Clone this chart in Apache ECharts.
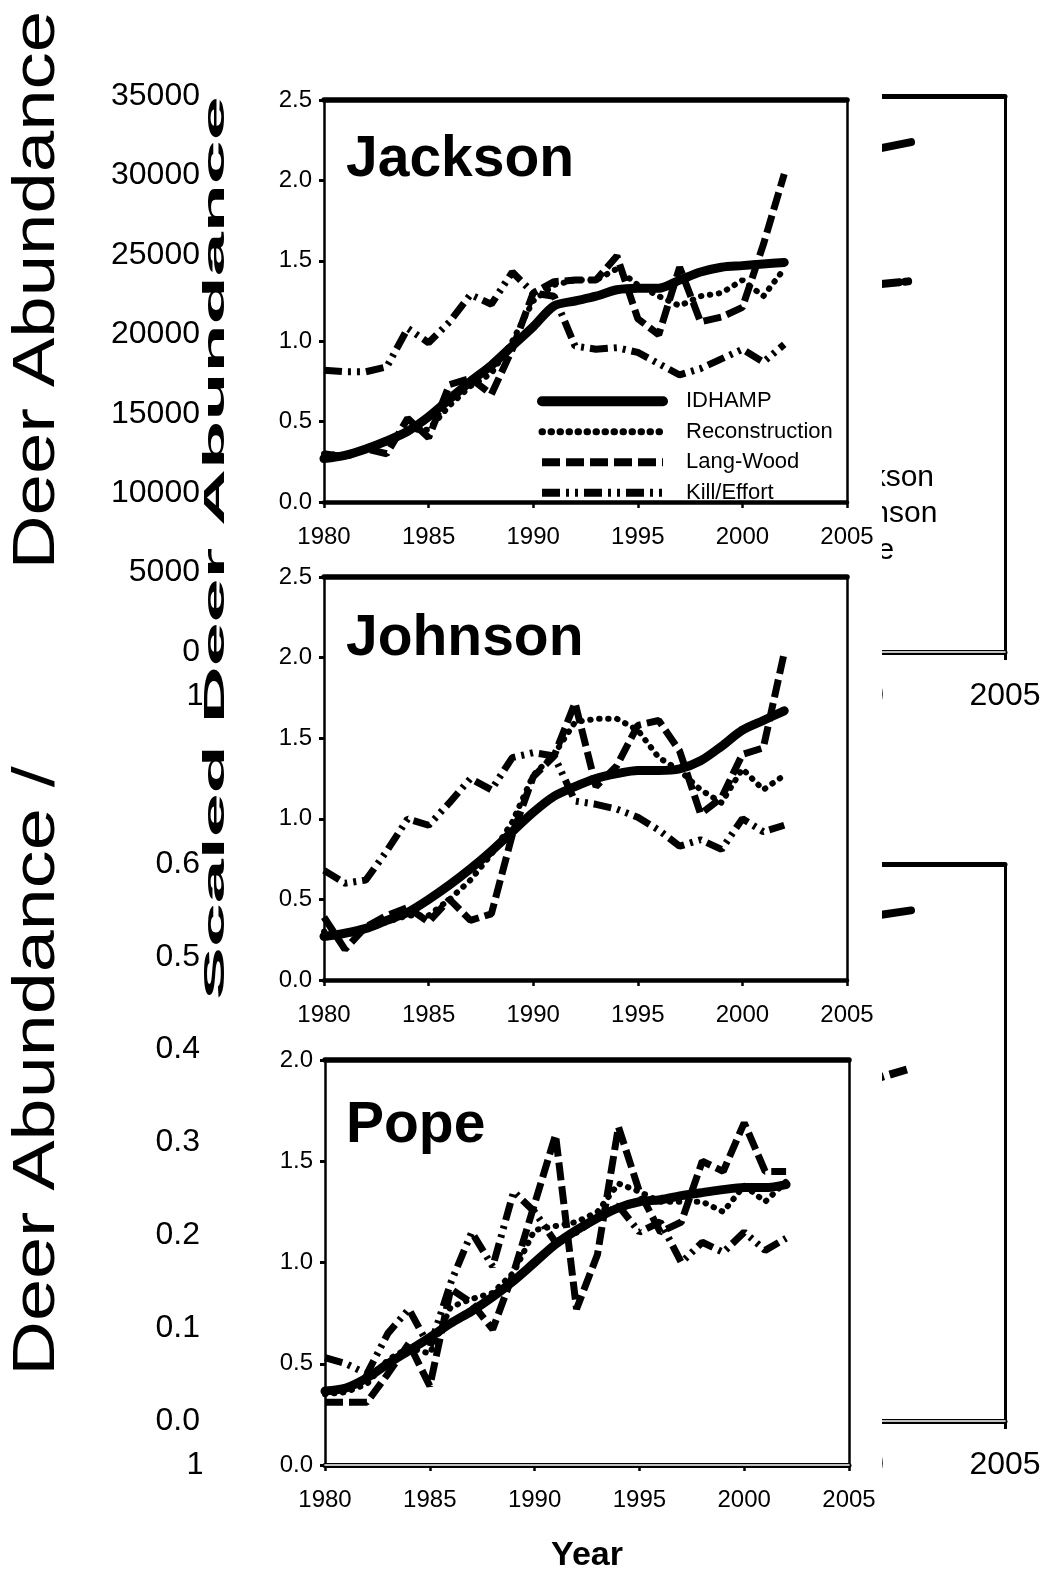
<!DOCTYPE html>
<html>
<head>
<meta charset="utf-8">
<script src="https://cdn.jsdelivr.net/npm/echarts@6/dist/echarts.min.js"></script>
<style>
  html, body { margin: 0; padding: 0; background: #fff; }
  #main { width: 1049px; height: 1574px; }
</style>
</head>
<body>
<div id="main"></div>
<script>
var chartDom = document.getElementById('main');
var myChart = echarts.init(chartDom);
var option;

var FONT = 'Liberation Sans';

// years shown in the three county panels
var years = [1980, 1981, 1982, 1983, 1984, 1985, 1986, 1987, 1988, 1989, 1990, 1991,
    1992, 1993, 1994, 1995, 1996, 1997, 1998, 1999, 2000, 2001, 2002];

// Jackson (scaled deer abundance)
var jacksonIdhamp = [0.27, 0.29, 0.33, 0.38, 0.44, 0.53, 0.64, 0.75, 0.85, 0.97, 1.09, 1.22,
    1.25, 1.28, 1.32, 1.33, 1.33, 1.38, 1.43, 1.46, 1.47, 1.48, 1.49];
var jacksonRecon = [0.30, 0.29, 0.33, 0.37, 0.45, 0.45, 0.60, 0.72, 0.80, 1.00, 1.25, 1.35,
    1.38, 1.38, 1.45, 1.35, 1.28, 1.22, 1.28, 1.30, 1.38, 1.28, 1.45];
var jacksonLangWood = [0.30, 0.28, 0.33, 0.30, 0.52, 0.40, 0.73, 0.77, 0.67, 0.95, 1.30, 1.37,
    1.38, 1.38, 1.53, 1.14, 1.04, 1.46, 1.12, 1.15, 1.21, 1.60, 2.04];
var jacksonKill = [0.82, 0.81, 0.81, 0.84, 1.08, 0.99, 1.12, 1.29, 1.23, 1.43, 1.30, 1.28,
    0.97, 0.95, 0.96, 0.93, 0.86, 0.79, 0.83, 0.89, 0.95, 0.87, 0.98];

// Johnson
var johnsonIdhamp = [0.27, 0.29, 0.32, 0.37, 0.42, 0.50, 0.59, 0.69, 0.80, 0.92, 1.04, 1.14,
    1.20, 1.25, 1.28, 1.30, 1.30, 1.31, 1.36, 1.45, 1.55, 1.61, 1.67];
var johnsonRecon = [0.30, 0.28, 0.31, 0.36, 0.40, 0.40, 0.50, 0.62, 0.78, 0.98, 1.27, 1.40,
    1.60, 1.62, 1.62, 1.55, 1.38, 1.30, 1.18, 1.10, 1.31, 1.18, 1.27];
var johnsonLangWood = [0.39, 0.19, 0.33, 0.40, 0.45, 0.36, 0.50, 0.37, 0.41, 0.90, 1.26, 1.39,
    1.72, 1.20, 1.33, 1.58, 1.61, 1.42, 1.03, 1.13, 1.40, 1.44, 2.03];
var johnsonKill = [0.68, 0.60, 0.62, 0.80, 1.00, 0.96, 1.10, 1.25, 1.18, 1.38, 1.41, 1.39,
    1.11, 1.09, 1.06, 1.01, 0.93, 0.83, 0.87, 0.81, 1.00, 0.92, 0.96];

// Pope
var popeIdhamp = [0.365, 0.38, 0.43, 0.50, 0.565, 0.63, 0.70, 0.76, 0.83, 0.91, 1.00, 1.09,
    1.16, 1.22, 1.27, 1.30, 1.31, 1.33, 1.345, 1.36, 1.37, 1.37, 1.385];
var popeRecon = [0.35, 0.36, 0.40, 0.52, 0.58, 0.55, 0.78, 0.82, 0.85, 0.95, 1.16, 1.18,
    1.20, 1.25, 1.39, 1.35, 1.30, 1.30, 1.30, 1.25, 1.38, 1.30, 1.40];
var popeLangWood = [0.31, 0.31, 0.31, 0.45, 0.60, 0.39, 0.87, 0.80, 0.67, 0.95, 1.29, 1.63,
    0.77, 1.04, 1.67, 1.35, 1.15, 1.20, 1.50, 1.45, 1.69, 1.45, 1.45];
var popeKill = [0.53, 0.50, 0.45, 0.65, 0.77, 0.58, 0.90, 1.15, 0.98, 1.35, 1.25, 1.10,
    1.15, 1.22, 1.28, 1.15, 1.20, 1.00, 1.10, 1.05, 1.15, 1.06, 1.12];

// the charts left behind the panels, only their tails show
var backYears = [2000, 2001, 2002];
var backAbundanceSolid = [31400, 31700, 32100];
var backAbundanceDash = [23000, 23150, 23350];
var backRatioSolid = [0.54, 0.545, 0.55];
var backRatioDash = [0.365, 0.37, 0.38];

var seriesNames = ['IDHAMP', 'Reconstruction', 'Lang-Wood', 'Kill/Effort'];
var lineStyles = {
    'IDHAMP': { width: 9, type: 'solid', cap: 'round', join: 'round' },
    'Reconstruction': { width: 6, type: [0.5, 8.5], cap: 'round' },
    'Lang-Wood': { width: 7, type: [18, 6], cap: 'butt' },
    'Kill/Effort': { width: 7, type: [18, 6, 3, 6, 3, 6], cap: 'butt' }
};

function pairs(xs, ys) {
    return xs.map(function (x, i) { return [x, ys[i]]; });
}

function plain(v) {
    return String(v);
}

var xAxes = [];
var yAxes = [];
var series = [];

function blackLine(w) {
    return { show: true, onZero: false, lineStyle: { color: '#000', width: w } };
}

// ---- background charts ----
function backPanel(gi, yMax, yInterval, digits) {
    xAxes.push({
        gridIndex: gi, type: 'value', min: 1980, max: 2005, interval: 5, position: 'bottom',
        axisLine: blackLine(5),
        axisTick: { show: true, length: 8, lineStyle: { color: '#000', width: 3 } },
        axisLabel: { margin: 28, fontSize: 32, fontFamily: FONT, color: '#000', formatter: plain },
        splitLine: { show: false }
    });
    xAxes.push({
        gridIndex: gi, type: 'value', min: 1980, max: 2005, position: 'bottom', z: 1,
        axisLine: { show: true, onZero: false, lineStyle: { color: '#fff', width: 1.5 } },
        axisTick: { show: false }, axisLabel: { show: false }, splitLine: { show: false }
    });
    xAxes.push({
        gridIndex: gi, type: 'value', min: 1980, max: 2005, position: 'top',
        axisLine: blackLine(5),
        axisTick: { show: false }, axisLabel: { show: false }, splitLine: { show: false }
    });
    yAxes.push({
        gridIndex: gi, type: 'value', min: 0, max: yMax, interval: yInterval, position: 'left',
        axisLine: { show: false }, axisTick: { show: false }, splitLine: { show: false },
        axisLabel: {
            margin: 22, fontSize: 32, fontFamily: FONT, color: '#000',
            formatter: function (v) { return digits ? v.toFixed(digits) : String(v); }
        }
    });
    yAxes.push({
        gridIndex: gi, type: 'value', min: 0, max: yMax, position: 'right',
        axisLine: blackLine(3),
        axisTick: { show: false }, axisLabel: { show: false }, splitLine: { show: false }
    });
}

backPanel(0, 35000, 5000, 0);
backPanel(1, 0.6, 0.1, 1);

series.push(
    { name: 'Jackson', type: 'line', xAxisIndex: 0, yAxisIndex: 0, symbol: 'none',
      data: pairs(backYears, backAbundanceSolid), lineStyle: { color: '#000', width: 8, cap: 'round' } },
    { name: 'Johnson', type: 'line', xAxisIndex: 0, yAxisIndex: 0, symbol: 'none',
      data: pairs(backYears, backAbundanceDash), lineStyle: { color: '#000', width: 8, type: [18, 6, 3, 6], cap: 'round' } },
    { name: 'Pope', type: 'line', xAxisIndex: 0, yAxisIndex: 0, symbol: 'none',
      data: [], lineStyle: { color: '#000', width: 7, type: [18, 6] } },
    { name: 'back ratio 1', type: 'line', xAxisIndex: 3, yAxisIndex: 2, symbol: 'none',
      data: pairs(backYears, backRatioSolid), lineStyle: { color: '#000', width: 8, cap: 'round' } },
    { name: 'back ratio 2', type: 'line', xAxisIndex: 3, yAxisIndex: 2, symbol: 'none',
      data: pairs(backYears, backRatioDash), lineStyle: { color: '#000', width: 8, type: [18, 6, 3, 6, 3, 6] } }
);

// ---- county panels ----
function countyPanel(gi, yMax, doubleBottom, values, withName) {
    var bottom = {
        gridIndex: gi, type: 'value', min: 1980, max: 2005, interval: 5, position: 'bottom', z: 10,
        axisLine: blackLine(doubleBottom ? 5 : 4.5),
        axisTick: { show: true, length: 6, lineStyle: { color: '#000', width: 2.5 } },
        axisLabel: { margin: 23, fontSize: 24, fontFamily: FONT, color: '#000', formatter: plain },
        splitLine: { show: false }
    };
    if (withName) {
        bottom.name = 'Year';
        bottom.nameLocation = 'middle';
        bottom.nameGap = 74;
        bottom.nameTextStyle = { fontSize: 34, fontWeight: 'bold', fontFamily: FONT, color: '#000' };
    }
    var xi = xAxes.length;
    xAxes.push(bottom);
    if (doubleBottom) {
        xAxes.push({
            gridIndex: gi, type: 'value', min: 1980, max: 2005, position: 'bottom', z: 11,
            axisLine: { show: true, onZero: false, lineStyle: { color: '#fff', width: 1.5 } },
            axisTick: { show: false }, axisLabel: { show: false }, splitLine: { show: false }
        });
    }
    xAxes.push({
        gridIndex: gi, type: 'value', min: 1980, max: 2005, position: 'top', z: 10,
        axisLine: blackLine(5.5),
        axisTick: { show: false }, axisLabel: { show: false }, splitLine: { show: false }
    });
    var yi = yAxes.length;
    yAxes.push({
        gridIndex: gi, type: 'value', min: 0, max: yMax, interval: 0.5, position: 'left', z: 10,
        axisLine: blackLine(2.5),
        axisTick: { show: true, length: 5, lineStyle: { color: '#000', width: 3 } },
        axisLabel: {
            margin: 12, fontSize: 24, fontFamily: FONT, color: '#000',
            formatter: function (v) { return v.toFixed(1); }
        },
        splitLine: { show: false }
    });
    yAxes.push({
        gridIndex: gi, type: 'value', min: 0, max: yMax, position: 'right', z: 10,
        axisLine: blackLine(2.5),
        axisTick: { show: false }, axisLabel: { show: false }, splitLine: { show: false }
    });
    seriesNames.forEach(function (name, k) {
        series.push({
            name: name, type: 'line', xAxisIndex: xi, yAxisIndex: yi, z: 12,
            symbol: 'none', smooth: name === 'IDHAMP' ? 0.3 : false,
            data: pairs(years, values[k]),
            lineStyle: Object.assign({ color: '#000' }, lineStyles[name])
        });
    });
}

countyPanel(2, 2.5, false, [jacksonIdhamp, jacksonRecon, jacksonLangWood, jacksonKill], false);
countyPanel(3, 2.5, false, [johnsonIdhamp, johnsonRecon, johnsonLangWood, johnsonKill], false);
countyPanel(4, 2.0, true, [popeIdhamp, popeRecon, popeLangWood, popeKill], true);

function countyTitle(text, top) {
    return {
        text: text, left: 346, top: top, padding: 0, z: 12,
        textStyle: { fontSize: 57, fontWeight: 'bold', fontFamily: FONT, color: '#000' }
    };
}

function sideText(text, x, y, size, weight, stretch, z) {
    return {
        type: 'text', x: x, y: y, rotation: Math.PI / 2, scaleX: stretch, z: z,
        style: {
            text: text, fill: '#000', align: 'center', verticalAlign: 'middle',
            font: weight + ' ' + size + 'px "' + FONT + '"'
        }
    };
}

option = {
    animation: false,
    backgroundColor: '#fff',
    title: [
        countyTitle('Jackson', 132),
        countyTitle('Johnson', 611),
        countyTitle('Pope', 1098)
    ],
    grid: [
        { left: 222, right: 44, top: 96, height: 556 },
        { left: 222, right: 44, top: 864, height: 557 },
        { left: 324, top: 100, width: 523, height: 402 },
        { left: 324, top: 577, width: 523, height: 403 },
        { left: 325, top: 1060, width: 524, height: 405 }
    ],
    legend: [
        {
            data: [
                { name: 'IDHAMP', lineStyle: { width: 10 } },
                { name: 'Reconstruction', lineStyle: { width: 7 } },
                { name: 'Lang-Wood', lineStyle: { width: 8 } },
                { name: 'Kill/Effort', lineStyle: { width: 8 } }
            ],
            orient: 'vertical', left: 532, top: 381, z: 12,
            itemWidth: 121, itemHeight: 14, itemGap: 0, selectedMode: false,
            itemStyle: { opacity: 0 },
            textStyle: { fontSize: 22, lineHeight: 30.5, fontFamily: FONT, color: '#000', padding: [0, 0, 0, 18] }
        },
        {
            data: ['Jackson', 'Johnson', 'Pope'],
            orient: 'vertical', left: 753, top: 454, z: 1,
            itemWidth: 60, itemHeight: 14, itemGap: 0, selectedMode: false,
            itemStyle: { opacity: 0 },
            textStyle: { fontSize: 30, lineHeight: 36.5, fontFamily: FONT, color: '#000' }
        }
    ],
    xAxis: xAxes,
    yAxis: yAxes,
    series: series,
    graphic: [
        sideText('Deer Abundance', 37, 290, 60, 'normal', 1.24, 1),
        sideText('Deer Abundance /', 37, 1071, 60, 'normal', 1.26, 1),
        // the county panels sit on an opaque sheet over the older charts
        { type: 'rect', z: 8, shape: { x: 202, y: 70, width: 680, height: 1504 }, style: { fill: '#fff' } },
        sideText('Scaled Deer Abundance', 216, 548, 30, 'bold', 2.63, 12)
    ]
};

option && myChart.setOption(option);
</script>
</body>
</html>
